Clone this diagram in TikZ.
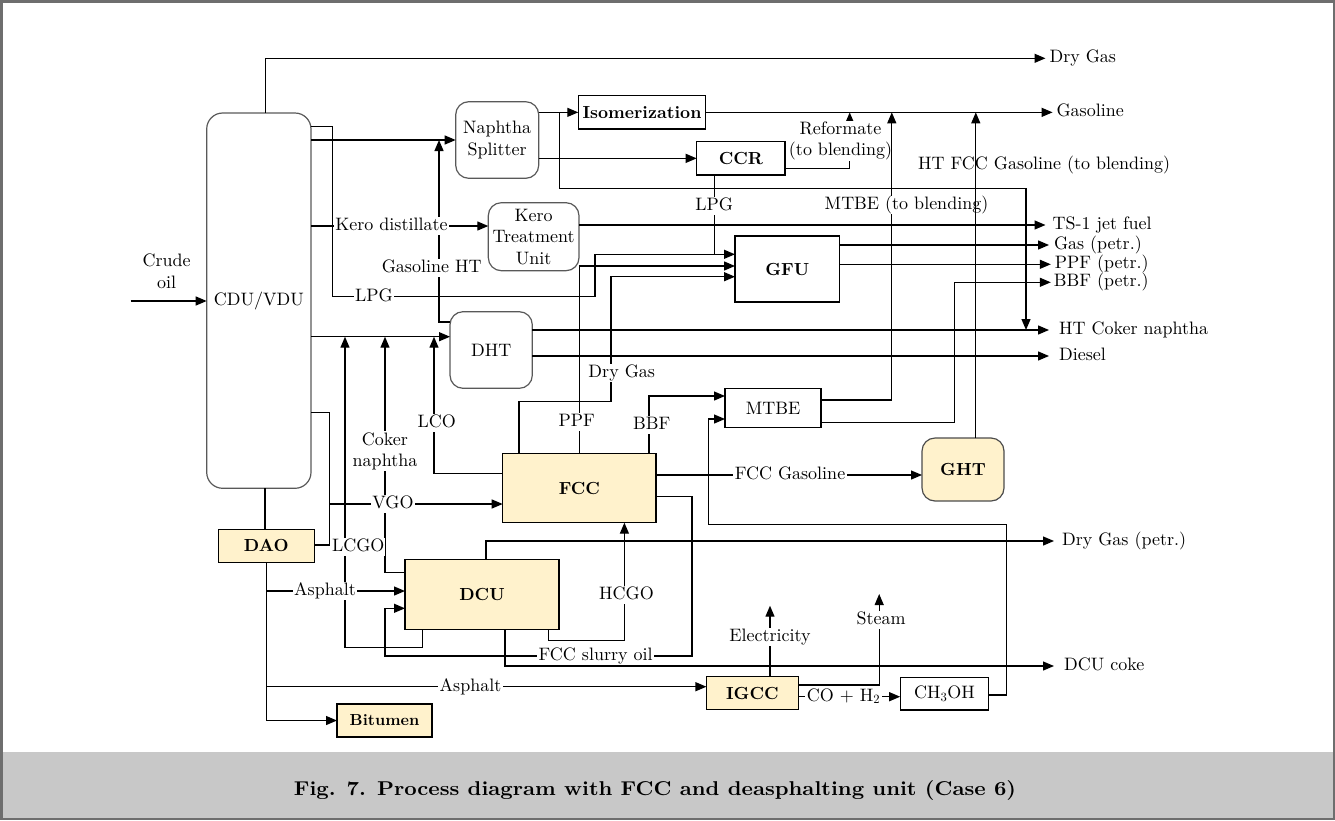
\documentclass[tikz,border=0pt]{standalone}
\usepackage{fontspec}
\setmainfont{lmroman10}[Extension=.otf, UprightFont=*-regular, BoldFont=*-bold, ItalicFont=*-italic, BoldItalicFont=*-bolditalic]
\usetikzlibrary{arrows.meta}
\definecolor{unitfill}{RGB}{255,242,204}
\definecolor{bandgray}{RGB}{200,200,200}
\definecolor{framegray}{RGB}{110,110,110}
\begin{document}
\begin{tikzpicture}[x=1pt,y=-1pt,
  every node/.style={font=\fontsize{18}{21.6}\selectfont, inner sep=0pt, outer sep=0pt},
  unit/.style={draw, line width=1.4pt, align=center, font=\fontsize{18}{21.6}\selectfont},
  bunit/.style={unit, font=\fontsize{17.5}{21}\selectfont\bfseries},
  yunit/.style={bunit, fill=unitfill},
  runit/.style={draw=black!65, line width=1.2pt, rounded corners=13pt, align=center},
  fl/.style={line width=1.3pt},
  ar/.style={fl, -{Triangle[length=11pt,width=9pt]}},
  lab/.style={fill=white, inner xsep=1.5pt, inner ysep=1pt, align=center, text height=12.5pt, text depth=3.5pt},
  labm/.style={fill=white, inner sep=1pt, align=center},
  outl/.style={anchor=west, inner xsep=4pt, inner ysep=1pt, text height=12.5pt, text depth=3.5pt},
]
\useasboundingbox (0,0) rectangle (1335,820);
% background band and frame
\fill[bandgray] (0,752) rectangle (1335,820);
\draw[framegray, line width=2.5pt] (1.25,1.25) rectangle (1333.75,818.75);
\node[font=\fontsize{20}{24}\selectfont\bfseries] (cap) at (655,790) {\scalebox{1.08}[1]{Fig. 7. Process diagram with FCC and deasphalting unit (Case 6)}};

% units
\node[runit, minimum width=104.3pt, minimum height=375.3pt, rounded corners=16pt] (CDU) at (258.85,300.65) {CDU/VDU};
\node[runit, minimum width=83pt, minimum height=76.6pt] (NS) at (497.2,140) {Naphtha\\Splitter};
\node[bunit, minimum width=127.4pt, minimum height=33.3pt] (ISO) at (642,112.35) {Isomerization};
\node[bunit, minimum width=88.3pt, minimum height=33.3pt] (CCR) at (740.85,158.35) {CCR};
\node[runit, minimum width=90.7pt, minimum height=68pt] (KTU) at (533.65,236.7) {Kero\\Treatment\\Unit};
\node[bunit, minimum width=104.5pt, minimum height=66pt] (GFU) at (787.25,269) {GFU};
\node[runit, minimum width=82.3pt, minimum height=76.6pt] (DHT) at (491.15,350) {DHT};
\node[unit, minimum width=96pt, minimum height=39.4pt] (MTBE) at (773,408) {MTBE};
\node[yunit, minimum width=153.3pt, minimum height=69.4pt] (FCC) at (579.35,488) {FCC};
\node[yunit, rounded corners=13pt, draw=black!70, line width=1.2pt, minimum width=82pt, minimum height=63pt] (GHT) at (963,469.5) {GHT};
\node[yunit, minimum width=96pt, minimum height=33pt] (DAO) at (266.3,545.8) {DAO};
\node[yunit, minimum width=154pt, minimum height=70pt] (DCU) at (482,594.3) {DCU};
\node[yunit, minimum width=91.9pt, minimum height=32.6pt] (IGCC) at (752.35,693) {IGCC};
\node[unit, minimum width=88.5pt, minimum height=32.3pt] (MEOH) at (944.45,693.85) {CH\textsubscript{3}OH};
\node[yunit, minimum width=95pt, minimum height=33pt, font=\fontsize{16}{19}\selectfont\bfseries] (BIT) at (384.5,720.5) {Bitumen};

% feed and products
\node[align=center] (crude) at (166.7,271.2) {Crude\\oil};
\coordinate (cin) at (130.7,301);
\node[outl] (tDry) at (1045.5,58.3) {Dry Gas};
\node[outl] (tGas) at (1052.6,112.35) {Gasoline};
\node[outl, inner xsep=7pt] (tTS) at (1045.5,225) {TS-1 jet fuel};
\node[outl, inner xsep=5pt] (tGasP) at (1049,245) {Gas (petr.)};
\node[outl] (tPPF) at (1050.8,264.3) {PPF (petr.)};
\node[outl, inner xsep=3pt] (tBBF) at (1050.8,282.3) {BBF (petr.)};
\node[outl, inner xsep=10pt] (tHTC) at (1049,330) {HT Coker naphtha};
\node[outl, inner xsep=10pt] (tDie) at (1049,356) {Diesel};
\node[outl, inner xsep=8pt] (tDryP) at (1054,541) {Dry Gas (petr.)};
\node[outl, inner xsep=10pt] (tCoke) at (1054,666) {DCU coke};

% connectors
\draw[ar] (cin) -- (CDU.west |- cin);
\draw[ar] (CDU.north -| 265.7,0) |- (tDry.west);
\draw[ar] (CDU.east |- 0,126.7) -| (332.7,296.7) -| (595,254.3) -- (GFU.west |- 0,254.3);
\draw[fl] (CCR.south -| 714.3,0) -- (714.3,254.3);
\draw[ar] (CDU.east |- NS.west) -- (NS.west);
\draw[ar] (DHT.west |- 0,322) -| (439,140);
\draw[ar] (CDU.east |- 0,226) -- (KTU.west |- 0,226);
\draw[ar] (KTU.east |- tTS.west) -- (tTS.west);
\draw[ar] (CDU.east |- 0,336.7) -- (DHT.west |- 0,336.7);
\draw[ar] (NS.east |- ISO.west) -- (ISO.west);
\draw[ar] (NS.east |- CCR.west) -- (CCR.west);
\draw[ar] (ISO.west -| 559.3,0) |- (1026,188.3) -- (1026,330);
\draw[ar] (ISO.east) -- (tGas.west);
\draw[ar] (CCR.east |- 0,168.3) -| (849.7,112.35);
\draw[ar] (GFU.east |- tGasP.west) -- (tGasP.west);
\draw[ar] (GFU.east |- tPPF.west) -- (tPPF.west);
\draw[ar] (MTBE.east |- 0,422.3) -| (954.5,282.3) -- (tBBF.west);
\draw[ar] (DHT.east |- tHTC.west) -- (tHTC.west);
\draw[ar] (DHT.east |- tDie.west) -- (tDie.west);
\draw[ar] (FCC.north -| 579.3,0) |- (GFU.west |- 0,266);
\draw[ar] (FCC.north -| 519,0) |- (611,401.7) |- (GFU.west |- 0,276.7);
\draw[ar] (FCC.north -| 649,0) |- (MTBE.west |- 0,396);
\draw[ar] (FCC.west |- 0,473.3) -| (434,336.7);
\draw[ar] (CDU.east |- 0,412.3) -| (329.3,504) -- (FCC.west |- 0,504);
\draw[fl] (DAO.east |- 0,545) -| (329.3,504);
\draw[fl] (CDU.south -| 265,0) -- (DAO.north -| 265,0);
\draw[ar] (DCU.west |- 0,572.7) -| (385,336.7);
\draw[ar] (DCU.south -| 422.7,0) |- (345,647.3) -- (345,336.7);
\draw[ar] (DAO.south |- 0,591) -- (DCU.west |- 0,591);
\draw[ar] (DAO.south) |- (BIT.west);
\draw[ar] (DAO.south |- 0,686.7) -- (IGCC.west |- 0,686.7);
\draw[ar] (FCC.east |- 0,496.7) -| (691.9,656) -| (385,608.3) -- (DCU.west |- 0,608.3);
\draw[ar] (DCU.south -| 505,0) |- (tCoke.west);
\draw[ar] (DCU.south -| 548.3,0) |- (624.4,640.7) -- (FCC.south -| 624.4,0);
\draw[ar] (DCU.north -| 486,0) |- (tDryP.west);
\draw[ar] (FCC.east |- 0,475) -- (GHT.west |- 0,475);
\draw[ar] (MEOH.east |- 0,695) -| (1006.6,524.3) -| (708.8,419) -- (MTBE.west |- 0,419);
\draw[ar] (IGCC.north -| 770,0) -- (770,605.7);
\draw[ar] (IGCC.east |- 0,685) -| (879.2,594);
\draw[ar] (IGCC.east |- 0,696.7) -- (MEOH.west |- 0,696.7);

% stream labels
\node[lab] (lLPG1) at (374,296.7) {LPG};
\node[lab] (lLPG2) at (714.3,206) {LPG};
\node[lab] (lGHT) at (431.7,267.7) {Gasoline HT};
\node[lab] (lKero) at (391.5,226) {Kero distillate};
\node[labm] (lRef) at (840.5,141) {Reformate\\(to blending)};
\node[lab] (lPPF) at (576.7,421.7) {PPF};
\node[lab] (lDG) at (621.7,373.3) {Dry Gas};
\node[lab] (lBBF) at (651.7,425) {BBF};
\node[lab] (lLCO) at (436.7,423.3) {LCO};
\node[labm] (lCN) at (385,451.3) {Coker\\naphtha};
\node[lab] (lVGO) at (393,504) {VGO};
\node[lab, inner xsep=0.5pt] (lLCGO) at (358.3,546.7) {LCGO};
\node[lab] (lAs1) at (325,591) {Asphalt};
\node[lab] (lAs2) at (470.5,686.7) {Asphalt};
\node[lab] (lSl) at (595.7,656) {FCC slurry oil};
\node[lab] (lHC) at (626.5,595) {HCGO};
\node[lab] (lFG) at (790,475) {FCC Gasoline};
\node[lab] (lEl) at (770,636.7) {Electricity};
\node[lab] (lSt) at (881,620) {Steam};
\node[lab] (lCO) at (843.5,696.7) {CO + H\textsubscript{2}};

% lines drawn over some labels
\draw[ar] (MTBE.east |- 0,400) -| (891.8,112.35);
\node[lab] (lMT) at (906.5,205) {MTBE (to blending)};
\node[lab] (lHT) at (1044.2,165) {HT FCC Gasoline (to blending)};
\draw[ar] (GHT.north -| 975.8,0) -- (975.8,112.35);
\end{tikzpicture}
\end{document}
